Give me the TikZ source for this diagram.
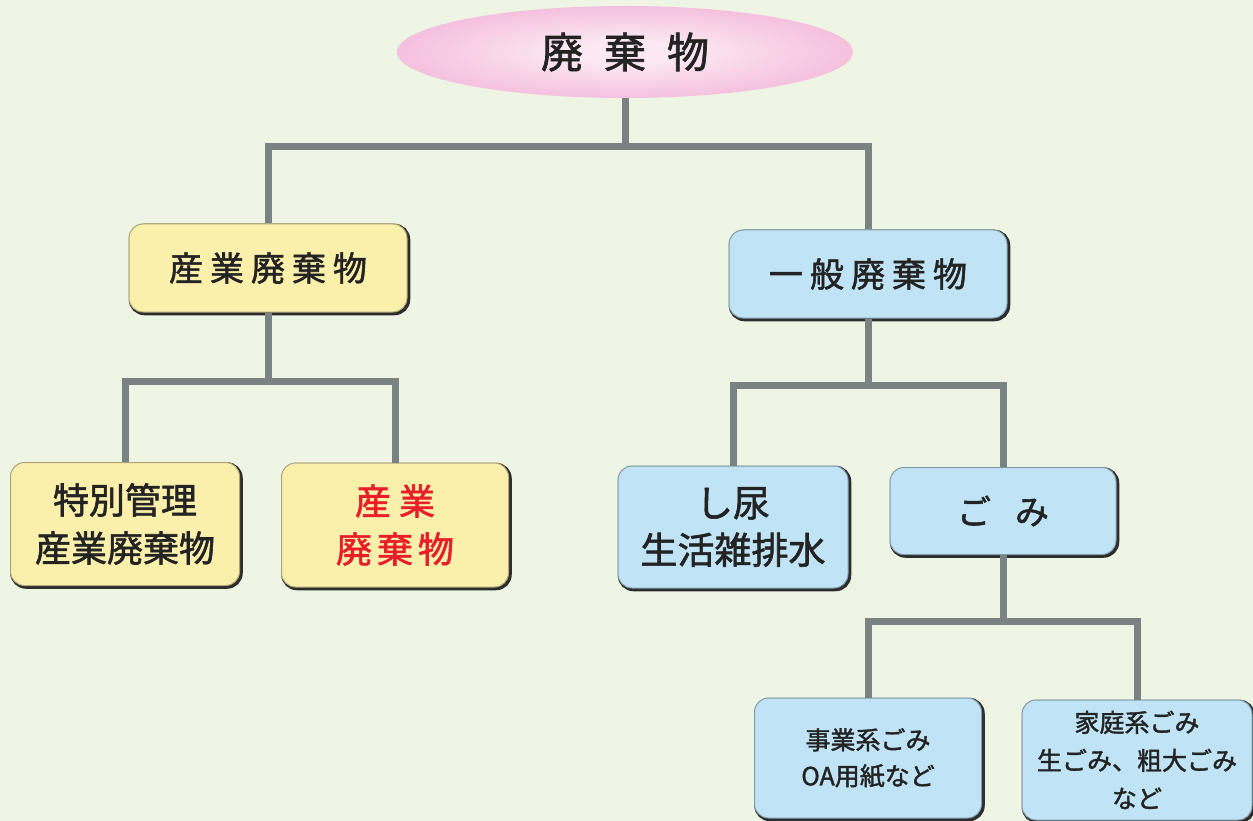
\documentclass[tikz,border=0pt]{standalone}
\usepackage{fontspec}
\setmainfont{Noto Sans CJK JP}[FakeBold=1.6]
\usetikzlibrary{shapes.geometric,shadows}
\definecolor{bg}{RGB}{238,245,228}
\definecolor{ellin}{RGB}{252,232,243}
\definecolor{ellout}{RGB}{236,140,196}
\definecolor{yfill}{RGB}{250,240,172}
\definecolor{bfill}{RGB}{192,228,245}
\definecolor{yedge}{RGB}{175,165,120}
\definecolor{bedge}{RGB}{130,155,170}
\definecolor{sdark}{RGB}{45,45,45}
\definecolor{conncol}{RGB}{122,130,130}
\definecolor{txt}{RGB}{35,35,35}
\definecolor{redtxt}{RGB}{232,30,40}
\pgfdeclareradialshading{ellshade}{\pgfpoint{0bp}{0bp}}{color(0bp)=(ellin); color(6bp)=(ellin); color(50bp)=(ellout)}
\tikzset{
  box/.style={rounded corners=14pt, inner sep=0pt, align=center, text=txt, line width=1pt,
     general shadow={draw=sdark, line width=3.5pt, shadow xshift=1.5pt, shadow yshift=-1.5pt}},
  ybox/.style={box, fill=yfill, draw=yedge},
  bbox/.style={box, fill=bfill, draw=bedge},
  conn/.style={draw=conncol, line width=7pt},
  big/.style={font=\fontsize{34}{40}\selectfont},
  mid/.style={font=\fontsize{36}{48}\selectfont},
  small/.style={font=\fontsize{25}{36}\selectfont},
}
\begin{document}
\begin{tikzpicture}[x=1pt,y=-1pt]
\fill[bg] (0,0) rectangle (1253,821);
\useasboundingbox (0,0) rectangle (1253,821);

% nodes
\node[ellipse, shading=ellshade, minimum width=456pt, minimum height=92pt, inner sep=0pt,
      text=txt, font=\fontsize{42}{48}\selectfont] (top) at (625,52)
      {廃\hspace{21pt}棄\hspace{21pt}物};

\node[ybox, big, minimum width=278pt, minimum height=88pt] (A) at (268,268)
      {産\hspace{7pt}業\hspace{7pt}廃\hspace{7pt}棄\hspace{7pt}物};
\node[bbox, big, minimum width=278pt, minimum height=88pt] (B) at (868,274)
      {一\hspace{7pt}般\hspace{7pt}廃\hspace{7pt}棄\hspace{7pt}物};

\node[ybox, mid, minimum width=229pt, minimum height=123pt] (A1) at (125,524)
      {特別管理\\産業廃棄物};
\node[ybox, mid, minimum width=227pt, minimum height=124pt, text=redtxt] (A2) at (395,525)
      {産\hspace{8pt}業\\廃\hspace{5pt}棄\hspace{5pt}物};

\node[bbox, font=\fontsize{37}{47}\selectfont, minimum width=230pt, minimum height=122pt] (B1) at (733,527)
      {し尿\\生活雑排水};
\node[bbox, big, minimum width=226pt, minimum height=87pt] (B2) at (1003,511)
      {ご\hspace{24pt}み};

\node[bbox, small, minimum width=227pt, minimum height=120pt] (C1) at (868,758)
      {事業系ごみ\\OA用紙など};
\node[bbox, font=\fontsize{25}{38}\selectfont, minimum width=230pt, minimum height=120pt] (C2) at (1137,760)
      {家庭系ごみ\\生ごみ、粗大ごみ\\など};

% junctions
\coordinate (j1) at (625,147);
\coordinate (j2) at (268,381);
\coordinate (j3) at (868,385);
\coordinate (j4) at (1003,621);

% connectors
\draw[conn] (top.south) -- (j1);
\draw[conn] (A.north) |- (j1) -| (B.north);
\draw[conn] (A.south) -- (j2);
\draw[conn] (A1.north) |- (j2) -| (A2.north);
\draw[conn] (B.south) -- (j3);
\draw[conn] (B1.north) |- (j3) -| (B2.north);
\draw[conn] (B2.south) -- (j4);
\draw[conn] (C1.north) |- (j4) -| (C2.north);
\end{tikzpicture}
\end{document}
